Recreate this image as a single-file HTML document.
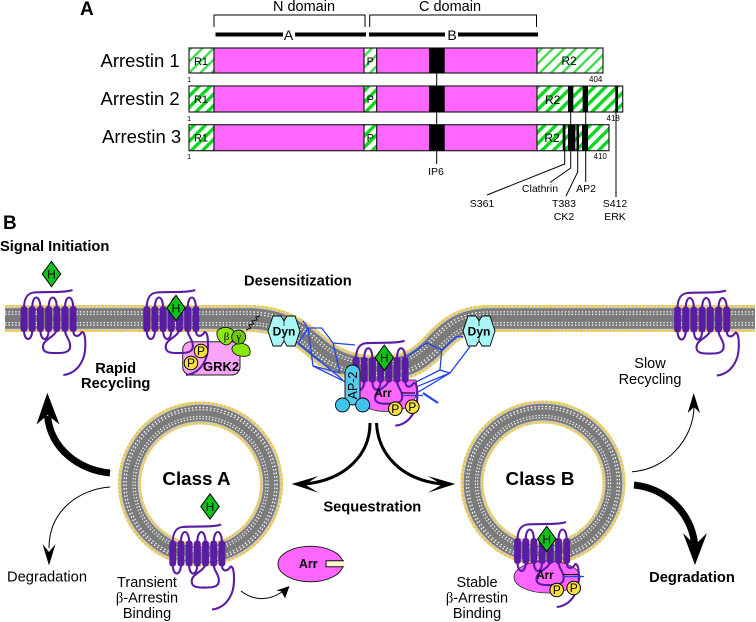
<!DOCTYPE html>
<html><head><meta charset="utf-8">
<style>
html,body{margin:0;padding:0;background:#fff}
svg{display:block}
text{font-family:"Liberation Sans",sans-serif;fill:#000}
.b{font-weight:bold}
.m{text-anchor:middle}
.bar{stroke:#222;stroke-width:1.2}
.k{stroke:#000;stroke-width:1;fill:none}
.p{fill:none;stroke:#5a1ca3;stroke-width:2.1}
.h{fill:#5a1ca3}
.cl{fill:none;stroke:#1f44f0;stroke-width:1.3}
</style></head><body>
<svg width="756" height="622" viewBox="0 0 756 622" xmlns="http://www.w3.org/2000/svg">
<defs>
<pattern id="st1" width="8" height="8" patternUnits="userSpaceOnUse" patternTransform="rotate(45)"><rect width="8" height="8" fill="#fff"/><rect width="2.4" height="8" fill="#3fdc50"/></pattern>
<pattern id="st2" width="8" height="8" patternUnits="userSpaceOnUse" patternTransform="rotate(45)"><rect width="8" height="8" fill="#fff"/><rect width="3.4" height="8" fill="#0ad81e"/></pattern>
<path id="mem" d="M5,318.5 L250,318.5 C280,318.5 300,332 318,348 C335,363 355,369 380,369 C405,369 418,362 432,348 C448,330 462,318.5 490,318.5 L755,318.5"/>
<g id="rc">
  <path class="p" d="M0,2 C0,-8 4,-13 10,-13.5 C25,-14.5 40,-13 48.5,-16"/>
  <path class="p" d="M8.2,2 C8.2,-12 16.4,-12 16.4,2 M24.6,2 C24.6,-12 32.8,-12 32.8,2 M41,2 C41,-12 49.2,-12 49.2,2"/>
  <path class="p" d="M0,24 C0,36 8.2,36 8.2,24 M16.4,24 C16.4,36 24.6,36 24.6,24"/>
  <path class="p" d="M32.8,24 C30,32 19,33 19,41 C19,48 28,47 35,47 C44,47 47,44 46,38 C45,32 41,30 41,24"/>
  <path class="p" d="M49.2,24 C49.2,31 54,32 58,26 C62,26 62,42 60,50 C57,60 50,68 39.3,69"/>
  <rect class="h" x="-3.4" y="0" width="6.8" height="26" rx="3"/><rect class="h" x="4.8" y="0" width="6.8" height="26" rx="3"/>
  <rect class="h" x="13" y="0" width="6.8" height="26" rx="3"/><rect class="h" x="21.2" y="0" width="6.8" height="26" rx="3"/>
  <rect class="h" x="29.4" y="0" width="6.8" height="26" rx="3"/><rect class="h" x="37.6" y="0" width="6.8" height="26" rx="3"/>
  <rect class="h" x="45.8" y="0" width="6.8" height="26" rx="3"/>
</g>
<g id="dia"><polygon points="0,-12.7 9.2,0 0,12.7 -9.2,0" fill="#0dc21a" stroke="#000" stroke-width="1"/><text class="m" y="4.3" font-size="12">H</text></g>
<g id="dyn"><path d="M0,15 L5,0 L13,0 L16,5 L19,0 L27,0 L32,15 L27,30 L19,30 L16,25 L13,30 L5,30 Z" fill="#a8f6f6" stroke="#000" stroke-width="0.9"/><path d="M16,5 V10 M16,25 V20" stroke="#000" stroke-width="0.7"/></g>
<g id="pc"><circle r="6.8" fill="#f9e040" stroke="#000" stroke-width="1"/><text class="m" y="4.2" font-size="12">P</text></g>
</defs>

<!-- Panel A -->
<text class="b" x="80" y="15" font-size="19">A</text>
<path class="k" d="M214,27 V15 H365 V27 M369.7,27 V15 H536.5 V27" stroke="#222"/>
<text class="m" x="304" y="11" font-size="14.5">N domain</text>
<text class="m" x="450" y="11" font-size="14.5">C domain</text>
<rect x="215.5" y="32.5" width="67.5" height="4"/><rect x="295" y="32.5" width="71" height="4"/>
<rect x="369" y="32.5" width="76" height="4"/><rect x="458" y="32.5" width="80" height="4"/>
<text class="m" x="288.5" y="40" font-size="14">A</text><text class="m" x="452" y="40" font-size="14">B</text>

<text x="100.5" y="67" font-size="18.5">Arrestin 1</text>
<text x="100.5" y="105" font-size="18.5">Arrestin 2</text>
<text x="102" y="143" font-size="18.5">Arrestin 3</text>

<!-- Arrestin 1 -->
<rect class="bar" x="189" y="48" width="25" height="25" fill="url(#st1)"/>
<rect class="bar" x="214" y="48" width="150" height="25" fill="#ff66ff"/>
<rect class="bar" x="364" y="48" width="12.7" height="25" fill="url(#st1)"/>
<rect class="bar" x="376.7" y="48" width="160.3" height="25" fill="#ff66ff"/>
<rect class="bar" x="537" y="48" width="66" height="25" fill="url(#st1)"/>
<rect x="429" y="48" width="15.7" height="25"/>
<!-- Arrestin 2 -->
<rect class="bar" x="189" y="86" width="25" height="26" fill="url(#st2)"/>
<rect class="bar" x="214" y="86" width="150" height="26" fill="#ff66ff"/>
<rect class="bar" x="364" y="86" width="12.7" height="26" fill="url(#st2)"/>
<rect class="bar" x="376.7" y="86" width="160.3" height="26" fill="#ff66ff"/>
<rect class="bar" x="537" y="86" width="85.7" height="26" fill="url(#st2)"/>
<rect x="429" y="86" width="15.7" height="26"/>
<rect x="568" y="86" width="5.3" height="26"/><rect x="582.7" y="86" width="5.3" height="26"/><rect x="615.3" y="86" width="2.7" height="26"/>
<!-- Arrestin 3 -->
<rect class="bar" x="189" y="124.7" width="25" height="26" fill="url(#st2)"/>
<rect class="bar" x="214" y="124.7" width="150" height="26" fill="#ff66ff"/>
<rect class="bar" x="364" y="124.7" width="12.7" height="26" fill="url(#st2)"/>
<rect class="bar" x="376.7" y="124.7" width="160.3" height="26" fill="#ff66ff"/>
<rect class="bar" x="537" y="124.7" width="72" height="26" fill="url(#st2)"/>
<rect x="429" y="124.7" width="15.7" height="26"/>
<rect x="562.7" y="124.7" width="2.7" height="26"/><rect x="568" y="124.7" width="7.3" height="26"/><rect x="576.5" y="124.7" width="2.5" height="26"/><rect x="582" y="124.7" width="6" height="26"/>

<text class="m" x="201" y="65" font-size="11">R1</text><text class="m" x="201" y="103" font-size="11">R1</text><text class="m" x="201" y="141.5" font-size="11">R1</text>
<text class="m" x="370.3" y="65" font-size="11">P</text><text class="m" x="370.3" y="103" font-size="11">P</text><text class="m" x="370.3" y="141.5" font-size="11">P</text>
<text class="m" x="569" y="65" font-size="12">R2</text><text class="m" x="552.7" y="104" font-size="12">R2</text><text class="m" x="552" y="142" font-size="12">R2</text>
<text x="187" y="82" font-size="7.5">1</text><text x="187" y="121" font-size="7.5">1</text><text x="187" y="159" font-size="7.5">1</text>
<text x="589" y="82" font-size="8">404</text><text x="606.5" y="121" font-size="8">418</text><text x="593.5" y="159" font-size="8">410</text>

<path class="k" d="M436.7,73 V86 M436.7,112 V124.7 M436.7,150.7 V164"/>
<path class="k" d="M564.7,151 V164 L487,195 M570.7,112 V124.7 M570.7,151 V168 L550,182.5 M577.7,151 V172 L566,196 M585.7,112 V124.7 M585.7,151 V182 M616,112 V197"/>
<text class="m" x="436" y="175" font-size="10.5">IP6</text>
<text class="m" x="482" y="207" font-size="10.5">S361</text>
<text class="m" x="540" y="192" font-size="10.5">Clathrin</text>
<text class="m" x="586" y="192" font-size="10.5">AP2</text>
<text class="m" x="564" y="207" font-size="10.5">T383</text>
<text class="m" x="564" y="220" font-size="10.5">CK2</text>
<text class="m" x="615" y="207" font-size="10.5">S412</text>
<text class="m" x="615" y="220" font-size="10.5">ERK</text>

<!-- Panel B -->
<text class="b" x="3" y="229" font-size="19">B</text>

<!-- Membrane -->
<g fill="none">
<use href="#mem" stroke="#d8d6cc" stroke-width="27"/>
<use href="#mem" stroke="#f5c832" stroke-width="27" stroke-dasharray="2.3 1.4"/>
<use href="#mem" stroke="#c8c8c8" stroke-width="22.5"/>
<use href="#mem" stroke="#7b7b7b" stroke-width="20.5"/>
<use href="#mem" stroke="#ffffff" stroke-width="14.5" stroke-dasharray="1.4 2"/>
<use href="#mem" stroke="#7b7b7b" stroke-width="12"/>
<use href="#mem" stroke="#f4f4f4" stroke-width="9.5" stroke-dasharray="1.4 2"/>
<use href="#mem" stroke="#7b7b7b" stroke-width="7"/>
</g>
<!-- Vesicles -->
<g fill="none">
<circle cx="200.5" cy="484" r="71" stroke="#d8d6cc" stroke-width="23"/>
<circle cx="200.5" cy="484" r="71" stroke="#f5c832" stroke-width="23" stroke-dasharray="2.3 1.4"/>
<circle cx="200.5" cy="484" r="71" stroke="#c8c8c8" stroke-width="18.5"/>
<circle cx="200.5" cy="484" r="71" stroke="#7b7b7b" stroke-width="16.5"/>
<circle cx="200.5" cy="484" r="71" stroke="#ffffff" stroke-width="12.5" stroke-dasharray="1.4 2"/>
<circle cx="200.5" cy="484" r="71" stroke="#7b7b7b" stroke-width="10"/>
<circle cx="200.5" cy="484" r="71" stroke="#f4f4f4" stroke-width="8" stroke-dasharray="1.4 2"/>
<circle cx="200.5" cy="484" r="71" stroke="#7b7b7b" stroke-width="5.5"/>
<circle cx="543" cy="483" r="71" stroke="#d8d6cc" stroke-width="23"/>
<circle cx="543" cy="483" r="71" stroke="#f5c832" stroke-width="23" stroke-dasharray="2.3 1.4"/>
<circle cx="543" cy="483" r="71" stroke="#c8c8c8" stroke-width="18.5"/>
<circle cx="543" cy="483" r="71" stroke="#7b7b7b" stroke-width="16.5"/>
<circle cx="543" cy="483" r="71" stroke="#ffffff" stroke-width="12.5" stroke-dasharray="1.4 2"/>
<circle cx="543" cy="483" r="71" stroke="#7b7b7b" stroke-width="10"/>
<circle cx="543" cy="483" r="71" stroke="#f4f4f4" stroke-width="8" stroke-dasharray="1.4 2"/>
<circle cx="543" cy="483" r="71" stroke="#7b7b7b" stroke-width="5.5"/>
</g>

<!-- Receptor 1 -->
<use href="#rc" x="24" y="306"/>
<use href="#dia" x="51.5" y="274"/>
<text class="b" x="0" y="251" font-size="14.7">Signal Initiation</text>

<!-- Receptor 2 + GRK2 -->
<rect x="182.7" y="341.7" width="57.3" height="33.3" rx="8" fill="#f9a4f9" stroke="#222" stroke-width="1"/>
<use href="#rc" x="146.7" y="306"/>
<use href="#dia" x="176" y="308"/>
<use href="#pc" x="201" y="351"/><use href="#pc" x="191" y="363"/>
<text class="b" x="203" y="371" font-size="13">GRK2</text>
<path d="M246,330 l5,-2 -2,-3 5,-1 -2,-3 5,-1 -1,-3 4,-1" fill="none" stroke="#111" stroke-width="1"/>
<path d="M217,332 C219,326 232,326 234,332 C236,338 230,345 226,345 C221,344 216,338 217,332 Z" fill="#88e810" stroke="#000" stroke-width="0.8"/>
<path d="M233,346 C238,342 248,342 250,350 C251,356 248,357 240,356 C234,355 230,350 233,346 Z" fill="#88e810" stroke="#000" stroke-width="0.8"/>
<circle cx="238.7" cy="337" r="7" fill="#6fc810" stroke="#000" stroke-width="0.8"/>
<text class="m" x="226.5" y="340" font-size="11" style="font-family:'Liberation Serif',serif">β</text>
<text class="m" x="238.7" y="340" font-size="10" style="font-family:'Liberation Serif',serif">γ</text>

<text class="b" x="244" y="285.5" font-size="14.7">Desensitization</text>
<text class="b m" x="115.7" y="373" font-size="14.7">Rapid</text>
<text class="b m" x="115.7" y="388" font-size="14.7">Recycling</text>

<!-- Clathrin -->
<path class="cl" d="M298.3,343.3 L308,328 L321.7,328 L333,343 L355,345 M333,343 L340,373 L313,366 L308,328 M298.3,343.3 L343,380 M313,366 L345,381.7 M303,321 L308,328"/>
<path class="cl" d="M407,357 L426.7,343 L441.7,350 L456.7,336.7 L463,336.7 M441.7,350 L440,370 L450,373 L470,346.7 M450,373 L416.7,393 M440,370 L416.7,381.7 M450,373 L416.7,386.7"/>
<path d="M423,393 L438,403" stroke="#1f44f0" stroke-width="2.2" fill="none"/>
<use href="#dyn" x="268" y="316"/><use href="#dyn" x="463" y="316"/>
<text class="b m" x="284" y="335.5" font-size="12">Dyn</text>
<text class="b m" x="479" y="335.5" font-size="12">Dyn</text>

<!-- Central complex -->
<path d="M360,380 L416,380 C419,395 415,405 400,410 C385,413 365,412 360,400 Z" fill="#ff66ff" stroke="#222" stroke-width="0.8"/>
<use href="#rc" x="356" y="356.7"/>
<rect x="345" y="365" width="15" height="40" rx="7.5" fill="#55c9ee" stroke="#000" stroke-width="0.9"/>
<circle cx="342.5" cy="405" r="7" fill="#40c4ee" stroke="#000" stroke-width="0.9"/>
<circle cx="362.7" cy="405" r="7" fill="#40c4ee" stroke="#000" stroke-width="0.9"/>
<text class="m" font-size="12.5" transform="translate(357,385.5) rotate(-90)">AP-2</text>
<use href="#dia" x="384.3" y="357.7"/>
<text class="b m" x="383" y="397" font-size="11.5">Arr</text>
<path d="M402,393 H415" stroke="#000" stroke-width="1.1"/><path d="M402,395.5 H423" stroke="#1f44f0" stroke-width="1.3"/>
<use href="#pc" x="395.3" y="408.7"/><use href="#pc" x="412.3" y="406.7"/>

<!-- Receptor 4 -->
<use href="#rc" x="677.5" y="306.5"/>
<text class="m" x="650" y="368" font-size="14.5">Slow</text>
<text class="m" x="650" y="384" font-size="14.5">Recycling</text>

<!-- Class A -->
<use href="#rc" x="172.7" y="540.5"/>
<use href="#dia" x="210" y="506.5"/>
<text class="b m" x="196.5" y="485" font-size="18.8">Class A</text>
<text class="m" x="147" y="587" font-size="14.5">Transient</text>
<text class="m" x="147" y="602.5" font-size="14.5"><tspan style="font-family:'Liberation Serif',serif">β</tspan>-Arrestin</text>
<text class="m" x="147" y="618" font-size="14.5">Binding</text>

<ellipse cx="310.5" cy="564" rx="32.5" ry="17.8" fill="#ff66ff" stroke="#222" stroke-width="1"/>
<path d="M344,560.7 H326 V566.7 H344" fill="#fbf6c8" stroke="#111" stroke-width="1"/>
<text class="b m" x="308.3" y="568" font-size="12.5">Arr</text>
<path d="M241,591 C255,602 270,600 282,592" fill="none" stroke="#000" stroke-width="1"/>
<polygon points="289.5,586 285,598.5 281.5,591.5 276.5,590.5"/>

<!-- Class B -->
<ellipse cx="547" cy="577" rx="33" ry="16" fill="#ff66ff" stroke="#222" stroke-width="0.8"/>
<use href="#rc" x="517.5" y="538"/>
<use href="#dia" x="546.7" y="539"/>
<text class="b m" x="540" y="485" font-size="18.8">Class B</text>
<text class="b m" x="545" y="579" font-size="11.5">Arr</text>
<path d="M563,574.5 H578" stroke="#000" stroke-width="1.1"/><path d="M563,576.5 H584" stroke="#1f44f0" stroke-width="1.3"/>
<use href="#pc" x="556.7" y="590"/><use href="#pc" x="573.7" y="588"/>
<text class="m" x="477" y="587" font-size="14.5">Stable</text>
<text class="m" x="477" y="602.5" font-size="14.5"><tspan style="font-family:'Liberation Serif',serif">β</tspan>-Arrestin</text>
<text class="m" x="477" y="618" font-size="14.5">Binding</text>

<!-- Arrows -->
<path d="M110,473 C80,470 51,450 47.5,416" fill="none" stroke="#000" stroke-width="7"/>
<polygon points="47.3,392.7 59.5,424.5 47.5,415 36.5,424.5"/>
<path d="M110,487 C80,489 49,510 49,548" fill="none" stroke="#000" stroke-width="1"/>
<polygon points="49,565.5 55.5,544 49,552 42.5,544"/>
<text x="7" y="581.7" font-size="14.7">Degradation</text>

<path d="M370,423 C370,455 345,480 305,484" fill="none" stroke="#000" stroke-width="3"/>
<polygon points="291.7,484 318.5,476 305,484.5 318.5,492.7"/>
<path d="M376.5,423 C378,455 402,480 442,484" fill="none" stroke="#000" stroke-width="3"/>
<polygon points="455.3,484 427.7,476 442,484.5 427.7,492.7"/>
<text class="b m" x="372.3" y="511.7" font-size="14.7">Sequestration</text>

<path d="M632,471.7 C665,470 694,440 694,406" fill="none" stroke="#000" stroke-width="1"/>
<polygon points="693.7,393 700,413 694,407 687.7,413"/>
<path d="M634,485 C665,488 692,512 695,547" fill="none" stroke="#000" stroke-width="7"/>
<polygon points="695,565 707,533 695,545 683,533"/>
<text class="b m" x="692" y="582" font-size="14.7">Degradation</text>
</svg>
</body></html>
